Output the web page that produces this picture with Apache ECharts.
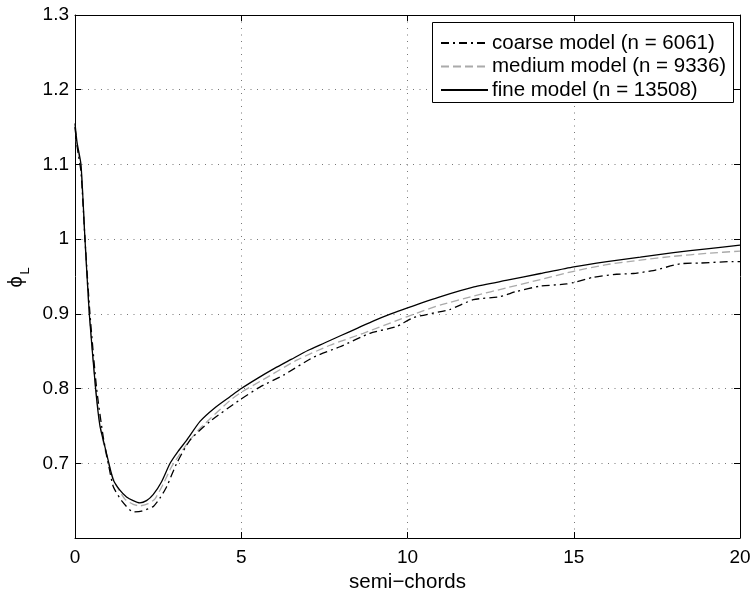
<!DOCTYPE html>
<html>
<head>
<meta charset="utf-8">
<script src="https://cdn.jsdelivr.net/npm/echarts@6/dist/echarts.min.js"></script>
<style>
  html, body { margin: 0; padding: 0; background: #fff; }
  #chart { width: 754px; height: 592px; }
</style>
</head>
<body>
<div id="chart"></div>
<script>
// Lift coefficient phi_L along the span (in semi-chords) for three mesh resolutions
const seriesNames = ['coarse model (n = 6061)', 'medium model (n = 9336)', 'fine model (n = 13508)'];

const coarseX = [0, 0.06, 0.18, 0.3, 0.45, 0.65, 0.85, 1.0, 1.15, 1.4, 1.75, 2.0, 2.35, 2.55, 2.76, 3.06, 3.46, 4.06, 4.96, 5.56, 6.27, 7.17, 7.97, 8.87, 9.67, 10.18, 11.28, 11.98, 12.78, 13.28, 13.98, 14.79, 15.0, 15.59, 16.29, 16.79, 17.39, 18.2, 18.8, 19.8, 20];
const coarseY = [1.15, 1.125, 1.09, 1.0, 0.9, 0.8, 0.735, 0.70, 0.669, 0.65, 0.635, 0.636, 0.642, 0.653, 0.669, 0.70, 0.731, 0.756, 0.785, 0.802, 0.818, 0.842, 0.856, 0.874, 0.883, 0.895, 0.906, 0.919, 0.923, 0.930, 0.937, 0.940, 0.942, 0.949, 0.953, 0.954, 0.958, 0.967, 0.968, 0.970, 0.970];

const mediumX = [0, 0.06, 0.18, 0.3, 0.43, 0.62, 0.8, 1.0, 1.2, 1.5, 1.75, 1.95, 2.2, 2.4, 2.65, 2.9, 3.15, 3.4, 3.7, 4.0, 4.66, 5, 5.66, 6.67, 7.67, 8.67, 9.67, 10.28, 11, 12, 13, 14, 15, 16, 17, 18, 19, 20];
const mediumY = [1.15, 1.125, 1.095, 1.0, 0.9, 0.8, 0.74, 0.70, 0.674, 0.652, 0.645, 0.643, 0.646, 0.652, 0.672, 0.695, 0.712, 0.728, 0.744, 0.757, 0.784, 0.795, 0.812, 0.838, 0.858, 0.874, 0.891, 0.901, 0.912, 0.924, 0.935, 0.946, 0.957, 0.966, 0.972, 0.977, 0.981, 0.984];

const fineX = [0, 0.06, 0.18, 0.3, 0.43, 0.62, 0.75, 0.9, 1.02, 1.15, 1.35, 1.55, 1.75, 1.95, 2.15, 2.35, 2.6, 2.86, 3.1, 3.36, 3.76, 4.2, 4.66, 5, 5.5, 6, 6.5, 7, 7.5, 8, 8.5, 9, 9.5, 10, 11, 12, 13, 14, 15, 16, 17, 18, 19, 20];
const fineY = [1.155, 1.13, 1.10, 1.0, 0.9, 0.8, 0.75, 0.722, 0.70, 0.678, 0.664, 0.655, 0.650, 0.647, 0.650, 0.658, 0.675, 0.70, 0.716, 0.731, 0.756, 0.774, 0.789, 0.800, 0.814, 0.827, 0.839, 0.851, 0.861, 0.871, 0.881, 0.891, 0.900, 0.908, 0.923, 0.936, 0.945, 0.954, 0.963, 0.970, 0.976, 0.982, 0.987, 0.992];

const xTicks = [0, 5, 10, 15, 20];
const yTicks = [0.6, 0.7, 0.8, 0.9, 1.0, 1.1, 1.2, 1.3];

const pairs = (xs, ys) => xs.map((x, i) => [x, ys[i]]);

const FONT = 'Liberation Sans, Arial, Helvetica, sans-serif';
const chart = echarts.init(document.getElementById('chart'), null, { renderer: 'canvas' });

const tickStyle = { show: true, inside: true, length: 6, lineStyle: { color: '#000', width: 1 } };
const frameLine = { show: true, onZero: false, lineStyle: { color: '#000', width: 1 } };
const gridDots = { show: true, lineStyle: { color: '#777', width: 1, type: [1, 5.5] } };

const xMin = xTicks[0], xMax = xTicks[xTicks.length - 1], xStep = xTicks[1] - xTicks[0];
const yMin = yTicks[0], yMax = yTicks[yTicks.length - 1];

const xBase = { type: 'value', min: xMin, max: xMax, interval: xStep, axisLine: frameLine, axisTick: tickStyle };
const yBase = { type: 'value', min: yMin, max: yMax, interval: 0.1, axisLine: frameLine, axisTick: tickStyle };

// legend frame (opaque box behind the legend entries)
const legendBox = { left: 432, top: 22, width: 301, height: 80 };

chart.setOption({
  animation: false,
  backgroundColor: '#fff',
  textStyle: { fontFamily: FONT },
  grid: { left: 75, top: 15, right: 14, bottom: 54, containLabel: false, outerBoundsMode: 'none' },
  xAxis: [
    Object.assign({}, xBase, {
      position: 'bottom',
      splitLine: gridDots,
      axisLabel: { color: '#000', fontSize: 19, fontFamily: FONT, margin: 10 },
      name: 'semi−chords', nameLocation: 'middle', nameGap: 31,
      nameTextStyle: { color: '#000', fontSize: 20.5, fontFamily: FONT }
    }),
    Object.assign({}, xBase, { position: 'top', splitLine: { show: false }, axisLabel: { show: false } })
  ],
  yAxis: [
    Object.assign({}, yBase, {
      position: 'left',
      splitLine: gridDots,
      axisLabel: {
        color: '#000', fontSize: 19, fontFamily: FONT, margin: 6,
        formatter: v => (v < yMin + 1e-9 ? '' : String(+v.toFixed(1)))
      }
    }),
    Object.assign({}, yBase, { position: 'right', splitLine: { show: false }, axisLabel: { show: false } })
  ],
  legend: {
    orient: 'vertical',
    left: legendBox.left, top: legendBox.top,
    padding: [10, 6, 1, 8],
    itemWidth: 47, itemHeight: 14, itemGap: 1.5,
    backgroundColor: 'transparent', borderWidth: 0,
    itemStyle: { opacity: 0 },
    textStyle: { color: '#000', fontSize: 20.5, lineHeight: 22, fontFamily: FONT, padding: [0, 0, 0, -1] },
    data: seriesNames,
    z: 12
  },
  graphic: [
    {
      type: 'rect', z: 10,
      shape: { x: legendBox.left + 0.5, y: legendBox.top + 0.5, width: legendBox.width, height: legendBox.height },
      style: { fill: '#fff', stroke: '#000', lineWidth: 1 }
    },
    {
      type: 'group', x: 16, y: 282, rotation: Math.PI / 2,
      children: [
        { type: 'text', x: 0, y: 0, style: { text: 'ϕ', font: '20px ' + FONT, fill: '#000', align: 'center', verticalAlign: 'middle' } },
        { type: 'text', x: 11, y: 9, style: { text: 'L', font: '13px ' + FONT, fill: '#000', align: 'center', verticalAlign: 'middle' } }
      ]
    }
  ],
  series: [
    {
      name: seriesNames[0], type: 'line', data: pairs(coarseX, coarseY),
      showSymbol: false, symbol: 'none', smooth: 0.2,
      lineStyle: { color: '#000', width: 1.3, type: [8, 4, 2, 4] }, itemStyle: { color: '#000' }, z: 3
    },
    {
      name: seriesNames[1], type: 'line', data: pairs(mediumX, mediumY),
      showSymbol: false, symbol: 'none', smooth: 0.2,
      lineStyle: { color: '#aaa', width: 1.3, type: [8, 4] }, itemStyle: { color: '#aaa' }, z: 2
    },
    {
      name: seriesNames[2], type: 'line', data: pairs(fineX, fineY),
      showSymbol: false, symbol: 'none', smooth: 0.2,
      lineStyle: { color: '#000', width: 1.3, type: 'solid' }, itemStyle: { color: '#000' }, z: 4
    }
  ]
});
</script>
</body>
</html>
